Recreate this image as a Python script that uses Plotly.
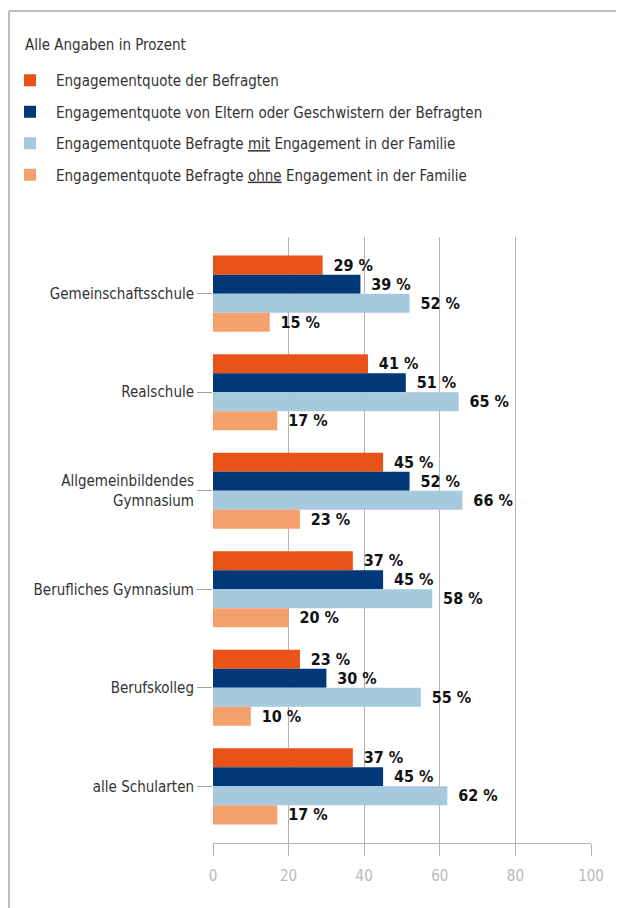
import plotly.graph_objects as go

categories = ["Gemeinschaftsschule", "Realschule", "Allgemeinbildendes<br>Gymnasium",
              "Berufliches Gymnasium", "Berufskolleg", "alle Schularten"]
series_names = [
    "Engagementquote der Befragten",
    "Engagementquote von Eltern oder Geschwistern der Befragten",
    "Engagementquote Befragte <u>mit</u> Engagement in der Familie",
    "Engagementquote Befragte <u>ohne</u> Engagement in der Familie",
]
befragte = [29, 41, 45, 37, 23, 37]
eltern = [39, 51, 52, 45, 30, 45]
mit_familie = [52, 65, 66, 58, 55, 62]
ohne_familie = [15, 17, 23, 20, 10, 17]
x_ticks = [0, 20, 40, 60, 80, 100]
legend_title = "Alle Angaben in Prozent"

colors = ["#E9531A", "#013877", "#A6C9DD", "#F3A06D"]
values = [befragte, eltern, mit_familie, ohne_familie]

FONT = "DejaVu Sans Condensed, Liberation Sans Narrow, sans-serif"

fig = go.Figure()
for name, vals, col in zip(series_names, values, colors):
    fig.add_trace(go.Bar(
        y=categories, x=vals, orientation="h", name=name, legendgroup=name,
        marker=dict(color=col, line=dict(width=0)),
        texttemplate="\u00a0\u2009%{x} %", textposition="outside",
        textfont=dict(family=FONT, size=16, color="#111111", weight="bold"),
        constraintext="none", cliponaxis=False, hoverinfo="skip",
    ))

# page body has an 8px margin, so the figure starts at (8, 8) in the page
OFF = 8
W, H = 624 - OFF, 908 - OFF
ml, mr, mt, mb = 213 - OFF, 33, 237 - OFF, 65
pw, ph = W - ml - mr, H - mt - mb

def px_x(p):
    return (p - OFF - ml) / pw

def px_y(p):
    return 1 - (p - OFF - mt) / ph

fig.update_layout(
    width=W, height=H, autosize=False,
    margin=dict(l=ml, r=mr, t=mt, b=mb, pad=0, autoexpand=False),
    paper_bgcolor="white", plot_bgcolor="white",
    barmode="group", bargap=0.228, bargroupgap=0,
    font=dict(family=FONT, size=15, color="#333333"),
    showlegend=True,
    legend=dict(
        x=px_x(4), y=px_y(64), xanchor="left", yanchor="top",
        traceorder="grouped", tracegroupgap=9, itemwidth=42,
        font=dict(family=FONT, size=15, color="#333333"),
        bgcolor="rgba(0,0,0,0)", borderwidth=0,
    ),
    annotations=[
        dict(text=legend_title, xref="paper", yref="paper", x=px_x(23), y=px_y(45),
             xanchor="left", yanchor="middle", showarrow=False,
             font=dict(family=FONT, size=15, color="#333333")),
    ],
    xaxis=dict(
        range=[0, 100], tickvals=x_ticks, showgrid=True, gridcolor="#b3b3b3", gridwidth=1,
        zeroline=False, showline=True, linecolor="#b3b3b3", linewidth=1,
        ticks="outside", ticklen=12, tickcolor="#b3b3b3", tickwidth=1,
        ticklabelstandoff=7,
        tickfont=dict(family=FONT, size=15, color="#b8b8b8"), fixedrange=True,
    ),
    yaxis=dict(
        type="category", categoryorder="array", categoryarray=categories,
        range=[5.575, -0.575], showgrid=False, zeroline=False, showline=False,
        ticks="outside", ticklen=15, tickcolor="#a0a0a0", tickwidth=1,
        tickfont=dict(family=FONT, size=15, color="#333333"), fixedrange=True,
    ),
    shapes=[
        dict(type="line", xref="paper", yref="paper", x0=px_x(9), x1=px_x(640),
             y0=px_y(11), y1=px_y(11), line=dict(color="#bdbdbd", width=2)),
        dict(type="line", xref="paper", yref="paper", x0=px_x(9), x1=px_x(9),
             y0=px_y(11), y1=px_y(920), line=dict(color="#bdbdbd", width=2)),
    ],
)

fig.write_html("out.html")
